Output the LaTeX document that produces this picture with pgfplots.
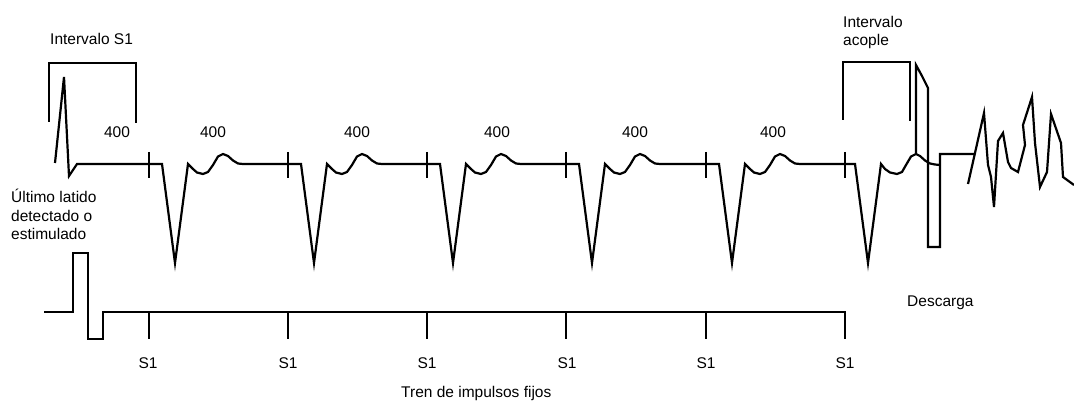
\documentclass[border=0pt]{standalone}
\usepackage{fontspec}
\setmainfont{Liberation Sans}
\usepackage{pgfplots}
\pgfplotsset{compat=1.18}
\begin{document}
\fontsize{15.5}{18}\selectfont
\begin{tikzpicture}
\useasboundingbox (0,0) rectangle (1074pt,403pt);
\begin{axis}[width=1074pt,height=403pt,scale only axis,
  xmin=0,xmax=1074,ymin=0,ymax=403,y dir=reverse,hide axis,clip=false,
  no markers,
  cycle list={{black,solid}},
  every axis plot/.append style={line width=2.2pt,line join=miter}]
% top trace: last sensed beat + five paced beats + coupled beat
\addplot coordinates {
(55,163) (64,77) (69,176) (77,164)
(162,164) (175,263) (188,164) (193,169) (197,172.5) (203,174) (208,172) (213,165) (218,156.5) (223,154) (228,156) (233,160.5) (238,163.5) (243,164)
(301,164) (314,263) (327,164) (332,169) (336,172.5) (342,174) (347,172) (352,165) (357,156.5) (362,154) (367,156) (372,160.5) (377,163.5) (382,164)
(440,164) (453,263) (466,164) (471,169) (475,172.5) (481,174) (486,172) (491,165) (496,156.5) (501,154) (506,156) (511,160.5) (516,163.5) (521,164)
(579,164) (592,263) (605,164) (610,169) (614,172.5) (620,174) (625,172) (630,165) (635,156.5) (640,154) (645,156) (650,160.5) (655,163.5) (660,164)
(719,164) (732,263) (745,164) (750,169) (754,172.5) (760,174) (765,172) (770,165) (775,156.5) (780,154) (785,156) (790,160.5) (795,163.5) (800,164)
(855,164) (868,263) (881,164) (885,169) (890,172.5) (897,174) (902,172) (906,165) (911,156.5) (916,154) (920,156) (925,160.5) (930,163.5) (935,164.5) (940,165)
};
% discharge
\addplot coordinates {(916,154) (916,65) (922,76) (928,88) (928,247) (940,247) (940,154) (975,154)};
% fibrillation
\addplot coordinates {(968,184) (984,113) (988,165) (991,177) (994,207) (998,141) (1003,133) (1008,162) (1011,168) (1018,172) (1025,145) (1023,125) (1032,97) (1035,143) (1040,187) (1047,172) (1051,114) (1061,143) (1063,177) (1074,185)};
% pacing markers on top trace
\addplot coordinates {(149,152) (149,178)};
\addplot coordinates {(288,152) (288,178)};
\addplot coordinates {(427,152) (427,178)};
\addplot coordinates {(566,152) (566,178)};
\addplot coordinates {(706,152) (706,178)};
\addplot coordinates {(845,152) (845,178)};
% brackets
\addplot coordinates {(49,122) (49,63) (136,63) (136,123)};
\addplot coordinates {(843,120) (843,62) (910,62) (910,121)};
% lower trace: pulse train
\addplot coordinates {(44,312) (73,312) (73,253) (88,253) (88,339) (103,339) (103,312) (845,312) (845,339)};
\addplot coordinates {(149,312) (149,339)};
\addplot coordinates {(288,312) (288,339)};
\addplot coordinates {(427,312) (427,339)};
\addplot coordinates {(566,312) (566,339)};
\addplot coordinates {(706,312) (706,339)};
% labels
\node[anchor=base west,inner sep=0] at (axis cs:50,45) {Intervalo S1};
\node[anchor=base west,inner sep=0] at (axis cs:843,28) {Intervalo};
\node[anchor=base west,inner sep=0] at (axis cs:843,46) {acople};
\node[anchor=base,inner sep=0] at (axis cs:117,138) {400};
\node[anchor=base,inner sep=0] at (axis cs:213,138) {400};
\node[anchor=base,inner sep=0] at (axis cs:357,138) {400};
\node[anchor=base,inner sep=0] at (axis cs:497,138) {400};
\node[anchor=base,inner sep=0] at (axis cs:635,138) {400};
\node[anchor=base,inner sep=0] at (axis cs:773,138) {400};
\node[anchor=base west,inner sep=0] at (axis cs:11,203) {Último latido};
\node[anchor=base west,inner sep=0] at (axis cs:11,222) {detectado o};
\node[anchor=base west,inner sep=0] at (axis cs:11,240) {estimulado};
\node[anchor=base,inner sep=0] at (axis cs:148,368) {S1};
\node[anchor=base,inner sep=0] at (axis cs:288,368) {S1};
\node[anchor=base,inner sep=0] at (axis cs:427,368) {S1};
\node[anchor=base,inner sep=0] at (axis cs:567,368) {S1};
\node[anchor=base,inner sep=0] at (axis cs:706,368) {S1};
\node[anchor=base,inner sep=0] at (axis cs:845,368) {S1};
\node[anchor=base west,inner sep=0] at (axis cs:401,397) {Tren de impulsos fijos};
\node[anchor=base west,inner sep=0] at (axis cs:907,307) {Descarga};
\end{axis}
\end{tikzpicture}
\end{document}
